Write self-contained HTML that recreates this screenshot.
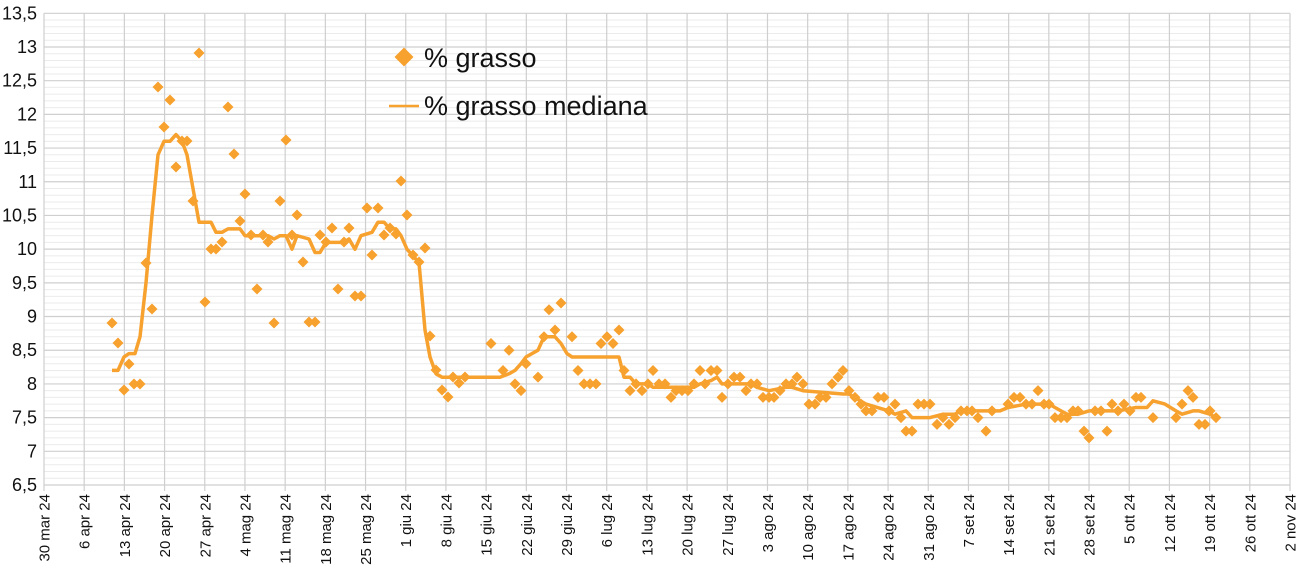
<!DOCTYPE html>
<html><head><meta charset="utf-8"><style>
body{margin:0;background:#fff}
svg{display:block;font-family:"Liberation Sans",sans-serif}
</style></head><body>
<svg id="c" width="1300" height="566" xmlns="http://www.w3.org/2000/svg"></svg>
<script>
const s=document.getElementById('c');let h='';
const L=44,R=1290,T=13.3,B=485;
const Y=v=>B-(v-6.5)*(B-T)/7;
const col='#f7a12f';
for(let i=0;i<=70;i++){const v=6.5+i*0.1,y=Y(v);if(i%5)h+=`<line x1="${L}" x2="${R}" y1="${y}" y2="${y}" stroke="#ebebeb" stroke-width="1"/>`;}
for(let i=0;i<=14;i++){const v=6.5+i*0.5,y=Y(v);h+=`<line x1="${L}" x2="${R}" y1="${y}" y2="${y}" stroke="#cfcfcf" stroke-width="1.2"/>`;
h+=`<text x="37" y="${y+6}" font-size="18" text-anchor="end" fill="#111">${(Math.round(v*10)/10).toString().replace('.',',')}</text>`;}
const labs=["30 mar 24","6 apr 24","13 apr 24","20 apr 24","27 apr 24","4 mag 24","11 mag 24","18 mag 24","25 mag 24","1 giu 24","8 giu 24","15 giu 24","22 giu 24","29 giu 24","6 lug 24","13 lug 24","20 lug 24","27 lug 24","3 ago 24","10 ago 24","17 ago 24","24 ago 24","31 ago 24","7 set 24","14 set 24","21 set 24","28 set 24","5 ott 24","12 ott 24","19 ott 24","26 ott 24","2 nov 24"];
labs.forEach((t,i)=>{const x=L+i*(R-L)/31;h+=`<line x1="${x}" x2="${x}" y1="${T}" y2="${B+6}" stroke="#cfcfcf" stroke-width="1.2"/>`;
h+=`<text transform="translate(${x+5.5},${B+9}) rotate(-90)" font-size="15" text-anchor="end" fill="#111">${t}</text>`;});
const m=[[112,8.2],[118,8.2],[124,8.4],[129,8.45],[135,8.45],[140,8.7],[146,9.5],[152,10.5],[158,11.4],[164,11.6],[170,11.6],[176,11.7],[182,11.6],[187,11.4],[193,10.9],[199,10.4],[205,10.4],[211,10.4],[216,10.25],[222,10.25],[228,10.3],[240,10.3],[245,10.2],[268,10.2],[274,10.15],[280,10.2],[286,10.2],[292,10.0],[297,10.2],[309,10.15],[315,9.95],[320,9.95],[326,10.1],[344,10.1],[349,10.15],[355,10.0],[361,10.2],[372,10.25],[378,10.4],[384,10.4],[390,10.3],[396,10.3],[401,10.2],[407,10.0],[413,9.9],[419,9.8],[425,8.8],[430,8.4],[436,8.15],[442,8.1],[500,8.1],[509,8.15],[515,8.2],[521,8.3],[526,8.4],[538,8.5],[544,8.7],[555,8.7],[561,8.6],[567,8.45],[572,8.4],[619,8.4],[624,8.1],[630,8.1],[636,8.0],[648,8.0],[653,7.95],[694,7.95],[700,8.0],[711,8.05],[717,8.1],[722,8.0],[751,8.0],[757,7.95],[769,7.9],[786,7.95],[792,7.95],[803,7.9],[843,7.85],[849,7.85],[866,7.7],[889,7.6],[895,7.55],[906,7.6],[912,7.5],[930,7.5],[943,7.55],[955,7.55],[961,7.6],[1000,7.6],[1008,7.65],[1026,7.7],[1049,7.7],[1061,7.6],[1067,7.55],[1078,7.55],[1089,7.6],[1118,7.6],[1136,7.65],[1147,7.65],[1153,7.75],[1165,7.7],[1176,7.6],[1182,7.55],[1193,7.6],[1199,7.6],[1210,7.55],[1216,7.5]];
h+=`<polyline fill="none" stroke="${col}" stroke-width="3.5" stroke-linejoin="round" points="${m.map(p=>p[0]+','+Y(p[1]).toFixed(1)).join(' ')}"/>`;
const P=[[112,323],[118,343],[124,390],[129,364],[134,384],[140,384],[146,263],[152,309],[158,87],[164,127],[170,100],[176,167],[182,141],[187,141],[193,201],[199,53],[205,302],[211,249],[216,249],[222,242],[228,107],[234,154],[240,221],[245,194],[251,235],[257,289],[263,235],[268,242],[274,323],[280,201],[286,140],[292,235],[297,215],[303,262],[309,322],[315,322],[320,235],[326,242],[332,228],[338,289],[344,242],[349,228],[355,296],[361,296],[367,208],[372,255],[378,208],[384,235],[390,228],[396,234],[401,181],[407,215],[413,255],[419,262],[425,248],[430,336],[436,370],[442,390],[448,397],[453,377],[459,383],[465,377]];
const V=[[491,8.6],[503,8.2],[509,8.5],[515,8.0],[521,7.9],[526,8.3],[538,8.1],[544,8.7],[549,9.1],[555,8.8],[561,9.2],[572,8.7],[578,8.2],[584,8.0],[590,8.0],[596,8.0],[601,8.6],[607,8.7],[613,8.6],[619,8.8],[624,8.2],[630,7.9],[636,8.0],[642,7.9],[648,8.0],[653,8.2],[659,8.0],[665,8.0],[671,7.8],[676,7.9],[682,7.9],[688,7.9],[694,8.0],[700,8.2],[705,8.0],[711,8.2],[717,8.2],[722,7.8],[728,8.0],[734,8.1],[740,8.1],[746,7.9],[751,8.0],[757,8.0],[763,7.8],[769,7.8],[774,7.8],[780,7.9],[786,8.0],[792,8.0],[797,8.1],[803,8.0],[809,7.7],[815,7.7],[820,7.8],[826,7.8],[832,8.0],[838,8.1],[843,8.2],[849,7.9],[855,7.8],[861,7.7],[866,7.6],[872,7.6],[878,7.8],[884,7.8],[889,7.6],[895,7.7],[901,7.5],[906,7.3],[912,7.3],[918,7.7],[924,7.7],[930,7.7],[937,7.4],[943,7.5],[949,7.4],[955,7.5],[961,7.6],[967,7.6],[972,7.6],[978,7.5],[986,7.3],[992,7.6],[1008,7.7],[1014,7.8],[1020,7.8],[1026,7.7],[1032,7.7],[1038,7.9],[1044,7.7],[1049,7.7],[1055,7.5],[1061,7.5],[1067,7.5],[1073,7.6],[1078,7.6],[1084,7.3],[1089,7.2],[1095,7.6],[1101,7.6],[1107,7.3],[1112,7.7],[1118,7.6],[1124,7.7],[1130,7.6],[1136,7.8],[1141,7.8],[1153,7.5],[1176,7.5],[1182,7.7],[1188,7.9],[1193,7.8],[1199,7.4],[1205,7.4],[1210,7.6],[1216,7.5]];
const dm=(x,y,r)=>`<path d="M${x} ${y-r}L${x+r} ${y}L${x} ${y+r}L${x-r} ${y}Z" fill="${col}"/>`;
P.forEach(p=>h+=dm(p[0],p[1],5.5));
V.forEach(p=>h+=dm(p[0],Y(p[1]),5.5));
h+=dm(404,57,9.5);
h+=`<text x="424" y="67" font-size="27" fill="#111">% grasso</text>`;
h+=`<line x1="389" x2="419" y1="106" y2="106" stroke="${col}" stroke-width="2.5"/>`;
h+=`<text x="424" y="115" font-size="27" fill="#111">% grasso mediana</text>`;
s.innerHTML=h;
</script>
</body></html>
